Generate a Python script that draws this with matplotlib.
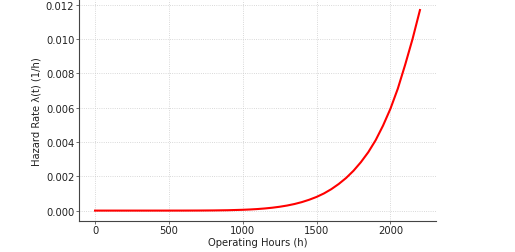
import matplotlib
matplotlib.use("Agg")
import matplotlib.pyplot as plt

# operating hours and hazard rate
hours = [0, 100, 200, 300, 400, 500, 600, 700, 800, 900,
         1000, 1050, 1100, 1150, 1200, 1250, 1300, 1350, 1400, 1450,
         1500, 1550, 1600, 1650, 1700, 1750, 1800, 1850, 1900, 1950,
         2000, 2050, 2100, 2150, 2200]
hazard = [0.0, 0.0, 0.0, 0.0, 0.0000001, 0.0000004, 0.0000013, 0.0000038, 0.0000098, 0.000022,
          0.000047, 0.000066, 0.000091, 0.000125, 0.000168, 0.000224, 0.000294, 0.000383, 0.000494, 0.000632,
          0.000797, 0.00100, 0.00125, 0.00155, 0.00190, 0.00232, 0.00282, 0.00340, 0.00410, 0.00495,
          0.00593, 0.00710, 0.00850, 0.01000, 0.01168]

fig = plt.figure(figsize=(5.15, 2.53), dpi=100)
ax = fig.add_axes([0.153, 0.124, 0.694, 0.872])

ax.plot(hours, hazard, color="red", linewidth=1.5)

ax.set_xlabel("Operating Hours (h)", fontsize=7.2, color="#222222", labelpad=1.5)
ax.set_ylabel("Hazard Rate λ(t) (1/h)", fontsize=7.2, color="#222222", labelpad=3)
ax.set_xticks([0, 500, 1000, 1500, 2000])
ax.set_yticks([0.000, 0.002, 0.004, 0.006, 0.008, 0.010, 0.012])
ax.set_yticklabels(["0.000", "0.002", "0.004", "0.006", "0.008", "0.010", "0.012"])
ax.tick_params(labelsize=7.2, length=2, width=0.6, colors="#555555", labelcolor="#222222", pad=1.2)

ax.grid(True, linestyle=":", linewidth=0.6, color="#cccccc")
for side in ["top", "right"]:
    ax.spines[side].set_visible(False)
for side in ["left", "bottom"]:
    ax.spines[side].set_color("#444444")
    ax.spines[side].set_linewidth(0.8)

fig.savefig("out.png", dpi=100)
